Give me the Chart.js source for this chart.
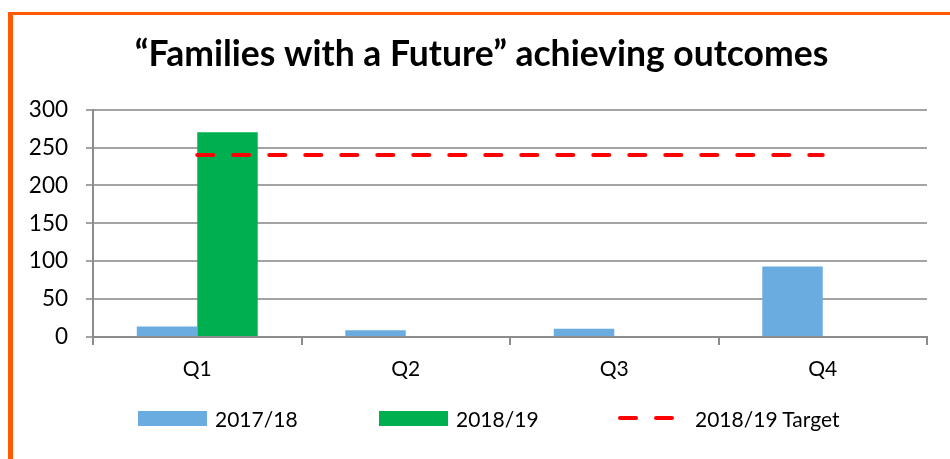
<!DOCTYPE html>
<html>
<head>
<meta charset="utf-8">
<script src="https://cdn.jsdelivr.net/npm/chart.js@4.4.1/dist/chart.umd.min.js"></script>
<style>
  html, body { margin: 0; padding: 0; background: #fff; }
  body { width: 950px; height: 459px; position: relative; overflow: hidden; font-family: Lato, sans-serif; }
  #frame {
    position: absolute; left: 8px; top: 12px; width: 937px; height: 444px;
    border-left: 5px solid #ff5a00; border-top: 3px solid #ff5a00;
  }
  #chart { position: absolute; left: 0; top: 0; }
  #legend { position: absolute; left: 0; top: 0; width: 100%; height: 100%; pointer-events: none; }
  .item { position: absolute; top: 388px; height: 30px; display: flex; align-items: center; font-size: 21px; color: #000; white-space: nowrap; }
  .box { width: 69px; height: 15px; margin-right: 8px; }
  .dash { width: 69px; height: 4px; margin-right: 14px; position: relative; }
  .dash span { position: absolute; top: 0; width: 20px; height: 4px; border-radius: 2px; }
</style>
</head>
<body>
<div id="frame">
  <canvas id="chart" width="937" height="380"></canvas>
  <div id="legend"></div>
</div>
<script>
// data
const quarters   = ["Q1", "Q2", "Q3", "Q4"];
const year1718   = [14, 9, 11, 93];
const year1819   = [270, null, null, null];
const target1819 = [240, 240, 240, 240];
const yTicks     = [0, 50, 100, 150, 200, 250, 300];

const titleText = "\u201CFamilies with a Future\u201D achieving outcomes";

Chart.defaults.font.family = "Lato, 'DejaVu Sans', sans-serif";
Chart.defaults.color = "#000";

const axisGray = "#8c8c8c";
const gridGray = "#a3a3a3";

const ctx = document.getElementById("chart").getContext("2d");

const chart = new Chart(ctx, {
  type: "bar",
  data: {
    labels: quarters,
    datasets: [
      {
        label: "2017/18",
        data: year1718,
        backgroundColor: "#6aabe0",
        order: 1
      },
      {
        label: "2018/19",
        data: year1819,
        backgroundColor: "#00b050",
        order: 1
      },
      {
        type: "line",
        label: "2018/19 Target",
        data: target1819,
        borderColor: "#ff0000",
        borderWidth: 4,
        borderDash: [16, 20],
        borderCapStyle: "round",
        pointRadius: 0,
        fill: false,
        order: 0
      }
    ]
  },
  options: {
    responsive: false,
    animation: false,
    devicePixelRatio: 1,
    layout: { padding: 0 },
    datasets: {
      bar: { categoryPercentage: 0.58, barPercentage: 1.0 }
    },
    plugins: {
      legend: { display: false },
      tooltip: { enabled: false },
      title: {
        display: true,
        text: titleText,
        color: "#000",
        font: { size: 35.5, weight: "bold" },
        padding: { top: 18, bottom: 34 }
      }
    },
    scales: {
      x: {
        offset: true,
        grid: {
          offset: true,
          drawOnChartArea: false,
          drawTicks: true,
          tickLength: 8,
          color: axisGray,
          lineWidth: 2
        },
        border: { display: true, color: axisGray, width: 2 },
        ticks: { font: { size: 21 }, padding: 12, color: "#000" },
        afterFit(scale) { scale.height = 58; }
      },
      y: {
        min: 0,
        max: 300,
        afterBuildTicks(scale) { scale.ticks = yTicks.map(v => ({ value: v })); },
        grid: {
          color: gridGray,
          lineWidth: 2,
          drawTicks: true,
          tickLength: 7,
          tickColor: gridGray
        },
        border: { display: true, color: axisGray, width: 2 },
        ticks: { font: { size: 22.5 }, padding: 18, color: "#000" },
        afterFit(scale) { scale.width = 80; }
      },
      // empty right gutter so the title stays centred on the whole frame
      gutter: {
        position: "right",
        min: 0,
        max: 1,
        grid: { display: false, drawTicks: false },
        border: { display: false },
        ticks: { display: false },
        afterFit(scale) { scale.width = 23; }
      }
    }
  }
});

// html legend built from the datasets
const legendLefts = [125, 366, 599];
const legendEl = document.getElementById("legend");
chart.data.datasets.forEach((ds, i) => {
  const item = document.createElement("div");
  item.className = "item";
  item.style.left = legendLefts[i] + "px";
  let marker;
  if (ds.type === "line") {
    marker = document.createElement("div");
    marker.className = "dash";
    [6, 42].forEach(x => {
      const s = document.createElement("span");
      s.style.left = x + "px";
      s.style.background = ds.borderColor;
      marker.appendChild(s);
    });
  } else {
    marker = document.createElement("div");
    marker.className = "box";
    marker.style.background = ds.backgroundColor;
  }
  const label = document.createElement("span");
  label.textContent = ds.label;
  item.appendChild(marker);
  item.appendChild(label);
  legendEl.appendChild(item);
});
</script>
</body>
</html>
